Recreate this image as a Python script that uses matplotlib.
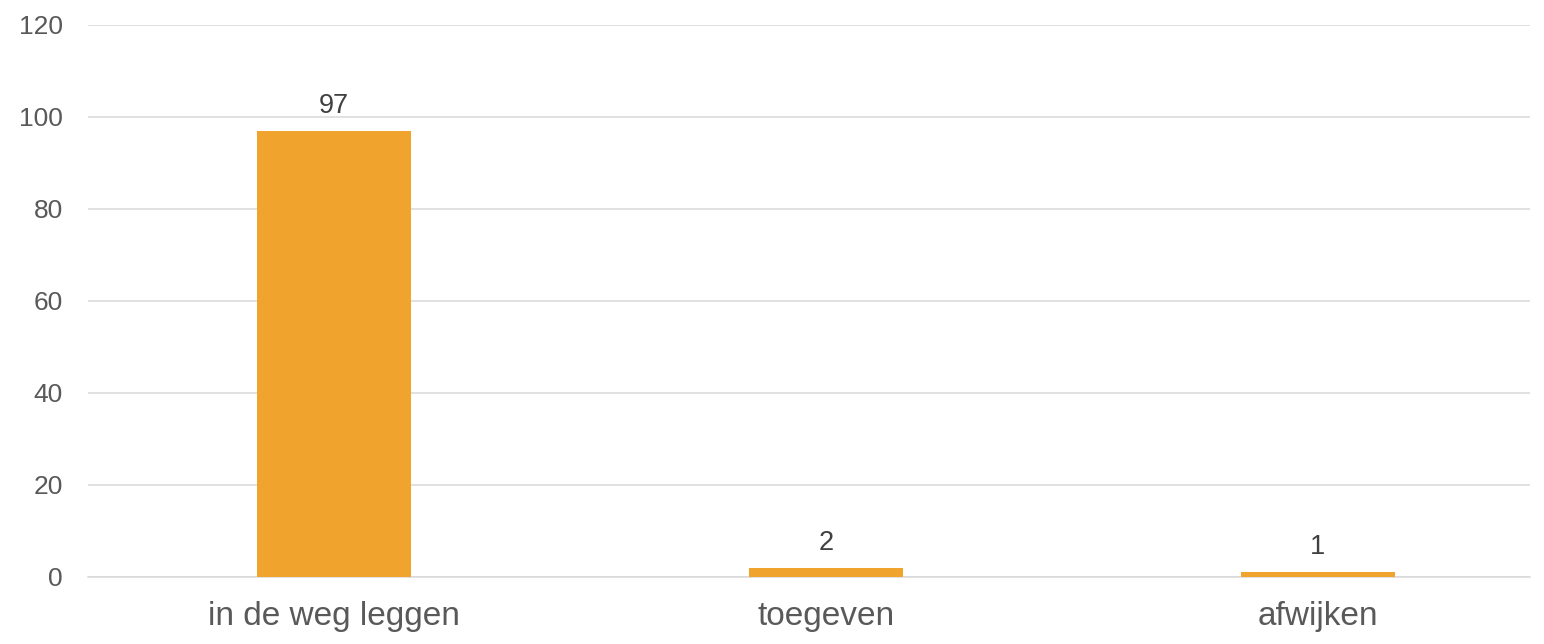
import matplotlib.pyplot as plt
import numpy as np

# Gegevens
categorieen = ['in de weg leggen', 'toegeven', 'afwijken']
aantallen = [97, 2, 1]
y_ticks = [0, 20, 40, 60, 80, 100, 120]

oranje = '#F0A42D'
grijs_tekst = '#595959'
grijs_lijn = '#D9D9D9'

plt.rcParams['font.family'] = ['Liberation Sans', 'DejaVu Sans']

fig = plt.figure(figsize=(15.44, 6.44), dpi=100)
ax = fig.add_axes([88 / 1544, 1 - 577 / 644, (1530 - 88) / 1544, (577 - 25) / 644])

x = np.arange(len(categorieen))
balken = ax.bar(x, aantallen, width=0.313, color=oranje, zorder=3)

# Waarden boven de balken
for b, v in zip(balken, aantallen):
    ax.annotate(str(v), (b.get_x() + b.get_width() / 2, v),
                xytext=(0, 12), textcoords='offset pixels',
                ha='center', va='bottom', fontsize=19.5, color='#404040')

ax.set_xlim(-0.5, 2.431)
ax.set_ylim(0, 120)
ax.set_yticks(y_ticks)
ax.set_xticks(x)
ax.set_xticklabels(categorieen, fontsize=24, color=grijs_tekst)
ax.tick_params(axis='y', labelsize=19, colors=grijs_tekst, length=0, pad=18)
ax.tick_params(axis='x', length=0, pad=17)

ax.grid(axis='y', color=grijs_lijn, linewidth=1.1, zorder=0)
for kant in ['top', 'right', 'left']:
    ax.spines[kant].set_visible(False)
ax.spines['bottom'].set_color(grijs_lijn)
ax.spines['bottom'].set_linewidth(1.1)

plt.savefig('out.png', dpi=100)
